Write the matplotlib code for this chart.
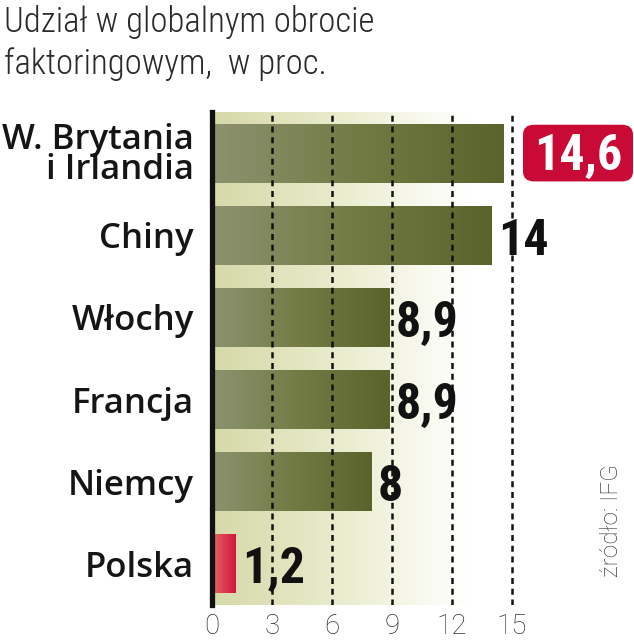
import numpy as np
import matplotlib
matplotlib.use("Agg")
import matplotlib.pyplot as plt
from matplotlib import font_manager as fm
from matplotlib.patches import FancyBboxPatch
from matplotlib.colors import LinearSegmentedColormap

categories = ["W. Brytania\ni Irlandia", "Chiny", "Włochy", "Francja", "Niemcy", "Polska"]
values = [14.6, 14.0, 8.9, 8.9, 8.0, 1.2]
value_labels = ["14,6", "14", "8,9", "8,9", "8", "1,2"]
xticks = [0, 3, 6, 9, 12, 15]
title = "Udział w globalnym obrocie\nfaktoringowym,  w proc."
source = "źródło: IFG"

names = sorted({f.name for f in fm.fontManager.ttflist})

def pick(*cands):
    for c in cands:
        if c in names:
            return c
    return "DejaVu Sans"

narrow = pick("Roboto Condensed", "Liberation Sans Narrow", "DejaVu Sans Condensed")
label_font = pick("Open Sans", "Noto Sans")

fig = plt.figure(figsize=(6.34, 6.4), dpi=100)
ax = fig.add_axes([212/634, 35/640, 320/634, 493/640])
ax.set_xlim(0, 16)
ax.set_ylim(5.5, -0.5)

# background gradient
bg = LinearSegmentedColormap.from_list("bg", [(0.0, "#d6d9a8"), (0.3, "#e4e7c3"),
                                              (0.6, "#f5f6e6"), (0.8, "#ffffff"), (1.0, "#ffffff")])
ax.imshow(np.linspace(0, 1, 256)[None, :], aspect="auto", cmap=bg,
          extent=[0, 16, 5.5, -0.5], zorder=0)

olive = LinearSegmentedColormap.from_list("ol", ["#8d9270", "#727b44", "#59632b"])
redc = LinearSegmentedColormap.from_list("rd", ["#e46666", "#d0163c"])

ypos = np.arange(len(categories))
bars = ax.barh(ypos, values, height=0.72, color="none", zorder=2)
for i, b in enumerate(bars):
    cmap = redc if categories[i] == "Polska" else olive
    im = ax.imshow(np.linspace(0, 1, 256)[None, :], aspect="auto", cmap=cmap,
                   extent=[0, values[i], ypos[i] + 0.36, ypos[i] - 0.36], zorder=2)
    im.set_clip_path(b)

for t in xticks[1:]:
    ax.axvline(t, color="#111111", lw=1.8, ls=(0, (2.4, 1.9)), zorder=3)

for s in ["top", "right", "bottom"]:
    ax.spines[s].set_visible(False)
ax.spines["left"].set_linewidth(3.8)
ax.spines["left"].set_color("#111111")
ax.spines["left"].set_zorder(5)

ax.set_yticks(ypos)
ax.set_yticklabels(categories, fontsize=25, family=label_font, fontweight="semibold",
                   color="#151515", linespacing=0.85)
ax.tick_params(axis="y", length=0, pad=13)
ax.set_xticks(xticks)
ax.set_xticklabels([str(t) for t in xticks], fontsize=20, family="Roboto", fontweight="light", color="#333333")
ax.tick_params(axis="x", length=0, pad=6)

for i, v in enumerate(values):
    if i == 0:
        box = FancyBboxPatch((v + 0.95, ypos[i] - 0.345), 5.5, 0.69,
                             boxstyle="round,pad=0,rounding_size=0.55",
                             fc="#c90a36", ec="none", zorder=5, clip_on=False,
                             mutation_aspect=0.22)
        ax.add_patch(box)
        ax.text(v + 0.95 + 2.75, ypos[i] + 0.04, value_labels[i], fontsize=36, family=narrow,
                fontweight="bold", color="white", ha="center", va="center", zorder=6, clip_on=False)
    else:
        ax.text(v + 0.3, ypos[i] + 0.07, value_labels[i], fontsize=36, family=narrow,
                fontweight="bold", color="#111111", ha="left", va="center", zorder=6, clip_on=False)

fig.text(4/634, 1 - 5/640, title, fontsize=25, family=narrow, fontweight="light",
         color="#2a2a2a", ha="left", va="top", linespacing=1.3)
fig.text(612/634, 1 - 577/640, source, fontsize=17.5, family="Roboto", fontweight="light",
         color="#444444", rotation=90, ha="center", va="bottom")

fig.savefig("out.png", dpi=100)
